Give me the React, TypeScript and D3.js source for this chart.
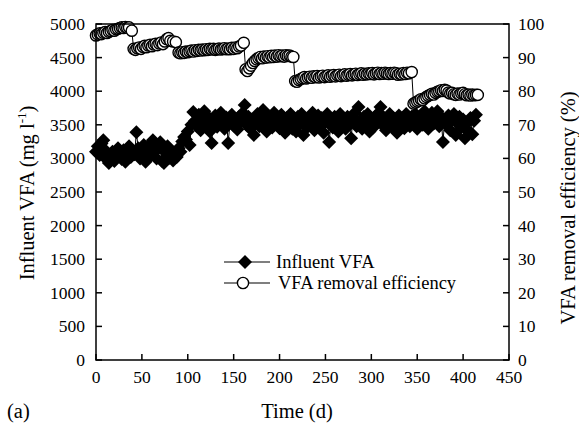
import React from "react";
import * as d3 from "d3";

// ---- data ----
// influent VFA sampled every 2 days from day 0 to day 414
const vfaDays = d3.range(0, 415, 2);
const vfaValues = [
  3100, 3180, 3050, 3220, 3270, 3120, 2980, 2930, 3040, 3100, 2960, 3010, 3150, 3060, 2990, 3120, 2950, 3080, 3180, 3020, 3100,
  3060, 3390, 3150, 3000, 3080, 3200, 2950, 3120, 3030, 3210, 3270, 3100, 3000, 3160, 3240, 2960, 2930, 3080, 3180, 3010, 3100, 2970, 3050,
  3020, 3150, 3100, 3250, 3320, 3280, 3400, 3200, 3500, 3690,
  3560, 3480, 3650, 3420, 3580, 3700, 3500, 3620, 3400, 3230, 3550, 3640, 3470, 3600, 3680, 3520, 3440, 3610, 3230, 3530, 3650, 3490,
  3580, 3430, 3620, 3540, 3680, 3795, 3500, 3620, 3440, 3580, 3350, 3540, 3660, 3480, 3600, 3720, 3520, 3400, 3630, 3560, 3460, 3680, 3540, 3600, 3450,
  3650, 3500, 3380, 3600, 3540, 3660, 3440, 3560, 3400, 3620, 3500, 3660, 3350, 3580, 3460, 3600, 3520, 3680, 3420, 3560, 3640, 3480, 3600, 3380, 3540,
  3660, 3245, 3520, 3460, 3620, 3540, 3400, 3660, 3500, 3580, 3440, 3620, 3520, 3300, 3600, 3680, 3480, 3765, 3560, 3440, 3620, 3520, 3660, 3400, 3580,
  3460, 3620, 3540, 3680, 3765, 3500, 3600, 3420, 3560, 3660, 3480, 3600, 3540, 3380, 3640, 3520, 3600, 3450, 3660, 3560, 3480, 3620, 3540, 3660, 3440,
  3580, 3640, 3500, 3700, 3560, 3440, 3620, 3680, 3520, 3600, 3700, 3480, 3620, 3245, 3560, 3500, 3640, 3420, 3580, 3660, 3350, 3520, 3620, 3460, 3580,
  3300, 3520, 3400, 3600, 3360, 3560, 3650,
];

const effDays = [
  0, 2, 4, 6, 8, 10, 12, 14, 16, 18, 20, 22, 24, 26, 28, 30, 32, 34, 36, 39,
  41, 43, 45, 47, 49, 51, 53, 55, 57, 59, 61, 63, 65, 67, 69, 71, 73, 75, 77, 79, 81, 84, 87,
  90, 92, 94, 96, 98, 100, 102, 104, 106, 108, 110, 112, 114, 116, 118, 120, 122, 124, 126, 128,
  130, 132, 134, 136, 138, 140, 142, 144, 146, 148, 150, 152, 154, 156, 158, 161,
  163, 165, 167, 169, 171, 173, 175, 177, 179, 181, 183, 185, 187, 189, 191, 193, 195, 197, 199,
  201, 203, 205, 207, 209, 211, 213, 215,
  217, 219, 221, 223, 225, 227, 229, 231, 233, 235, 237, 239, 241, 243, 245, 247, 249, 251, 253,
  255, 257, 259, 261, 263, 265, 267, 269, 271, 273, 275, 277, 279, 281, 283, 285, 287, 289, 291,
  293, 295, 297, 299, 301, 303, 305, 307, 309, 311, 313, 315, 317, 319, 321, 323, 325, 327, 329,
  331, 333, 335, 337, 339, 341, 344,
  346, 348, 350, 352, 354, 356, 358, 360, 362, 364, 366, 368, 370, 372, 374, 376, 378, 380, 382,
  384, 386, 388, 390, 392, 394, 396, 398, 400, 402, 404, 406, 408, 410, 412, 414, 416,
];
const effValues = [
  96.6, 96.9, 97.2, 97.0, 97.4, 97.6, 97.3, 97.7, 97.9, 98.2, 98.0, 98.4, 98.6, 98.8, 99.0, 98.8, 99.1, 98.9, 99.0, 98.0,
  92.6, 92.3, 92.8, 93.0, 92.6, 93.2, 93.5, 93.1, 93.6, 93.8, 93.4, 93.9, 94.1, 93.7, 94.2, 94.5, 94.0, 94.8, 95.5, 95.8, 95.0, 94.8, 94.6,
  91.5, 91.3, 91.6, 91.4, 91.8, 91.6, 91.9, 92.1, 91.8, 92.2, 92.0, 92.3, 92.1, 92.4, 92.2, 92.5, 92.3, 92.6, 92.4, 92.6,
  92.3, 92.5, 92.7, 92.4, 92.6, 92.8, 92.5, 92.7, 92.5, 92.9, 92.6, 93.0, 92.8, 93.3, 93.6, 94.4,
  86.5, 86.0, 86.8, 87.6, 88.4, 89.0, 89.5, 89.9, 90.2, 89.8, 90.3, 90.0, 90.4, 90.1, 90.5, 90.2, 90.6, 90.3, 90.7,
  90.4, 90.6, 90.3, 90.7, 90.5, 90.6, 90.3, 90.2,
  83.0, 82.8, 83.3, 83.6, 83.9, 84.2, 83.8, 84.1, 84.3, 84.0, 84.4, 84.2, 84.5, 84.1, 84.4, 84.6, 84.2, 84.5, 84.7,
  84.3, 84.6, 84.8, 84.4, 84.7, 84.9, 84.5, 84.8, 85.0, 84.6, 84.9, 85.1, 84.7, 85.0, 85.2, 84.8, 85.1, 85.3, 84.9,
  85.2, 85.0, 85.3, 85.1, 85.4, 85.0, 85.3, 85.5, 85.1, 85.4, 85.2, 85.5, 85.3, 85.1, 85.4, 85.2, 85.5, 85.3, 84.9,
  85.2, 85.0, 85.4, 85.1, 85.5, 85.3, 85.7,
  76.3, 76.6, 76.9, 77.2, 77.6, 77.4, 77.9, 78.3, 78.6, 78.9, 79.2, 79.0, 79.5, 79.8, 80.0, 80.3, 80.1, 80.4, 80.2,
  79.6, 79.3, 79.5, 79.1, 78.9, 79.3, 79.0, 79.4, 79.5, 79.1, 78.8, 79.0, 78.7, 79.0, 78.8, 78.9, 78.9,
];

const xTicks = [0, 50, 100, 150, 200, 250, 300, 350, 400, 450];
const leftTicks = [0, 500, 1000, 1500, 2000, 2500, 3000, 3500, 4000, 4500, 5000];
const rightTicks = [0, 10, 20, 30, 40, 50, 60, 70, 80, 90, 100];

const W = 579;
const H = 423;
const L = 96, R = 509, T = 24, B = 360;

const FONT = "'Liberation Serif', 'Times New Roman', Times, serif";

export default function App() {
  const x = d3.scaleLinear().domain([0, 450]).range([L, R]);
  const yL = d3.scaleLinear().domain([0, 5000]).range([B, T]);
  const yR = d3.scaleLinear().domain([0, 100]).range([B, T]);

  const vfa = vfaDays.map((d, i) => [d, vfaValues[i]] as [number, number]);
  const eff = effDays.map((d, i) => [d, effValues[i]] as [number, number]);

  const vfaLine = d3.line<[number, number]>().x((d) => x(d[0])).y((d) => yL(d[1]))(vfa) || "";
  const effLine = d3.line<[number, number]>().x((d) => x(d[0])).y((d) => yR(d[1]))(eff) || "";

  const dr = 7;
  const diamond = `M0,${-dr}L${dr},0L0,${dr}L${-dr},0Z`;
  const cr = 5.6;
  const tickFont = 17.5;

  return (
    <svg
      width={W}
      height={H}
      style={{ position: "absolute", left: 0, top: 0, background: "#fff" }}
    >
      <rect x={0} y={0} width={W} height={H} fill="#fff" />
      {/* series */}
      <path d={vfaLine} fill="none" stroke="#000" strokeWidth={1} />
      {vfa.map((d, i) => (
        <path key={"v" + i} d={diamond} transform={`translate(${x(d[0])},${yL(d[1])})`} fill="#000" />
      ))}
      <path d={effLine} fill="none" stroke="#000" strokeWidth={1} />
      {eff.map((d, i) => (
        <circle key={"e" + i} cx={x(d[0])} cy={yR(d[1])} r={cr} fill="#fff" stroke="#000" strokeWidth={1.4} />
      ))}

      {/* frame */}
      <rect x={L} y={T} width={R - L} height={B - T} fill="none" stroke="#000" strokeWidth={1.5} />

      {/* bottom ticks */}
      {xTicks.map((t) => (
        <g key={"x" + t}>
          <line x1={x(t)} x2={x(t)} y1={B} y2={B - 6} stroke="#000" strokeWidth={1.5} />
          <text x={x(t)} y={383} textAnchor="middle" fontSize={tickFont} fontFamily={FONT}>
            {t}
          </text>
        </g>
      ))}
      {/* left ticks */}
      {leftTicks.map((t) => (
        <g key={"l" + t}>
          <line x1={L} x2={L + 6} y1={yL(t)} y2={yL(t)} stroke="#000" strokeWidth={1.5} />
          <text x={L - 11} y={yL(t) + 6} textAnchor="end" fontSize={tickFont} fontFamily={FONT}>
            {t}
          </text>
        </g>
      ))}
      {/* right ticks */}
      {rightTicks.map((t) => (
        <g key={"r" + t}>
          <line x1={R} x2={R - 6} y1={yR(t)} y2={yR(t)} stroke="#000" strokeWidth={1.5} />
          <text x={R + 9} y={yR(t) + 6} textAnchor="start" fontSize={tickFont} fontFamily={FONT}>
            {t}
          </text>
        </g>
      ))}

      {/* axis titles */}
      <text transform={`translate(34,193) rotate(-90)`} textAnchor="middle" fontSize={20.5} fontFamily={FONT}>
        Influent VFA  (mg l<tspan dy={-8} fontSize={13}>-1</tspan>
        <tspan dy={8}>)</tspan>
      </text>
      <text transform={`translate(575,208) rotate(-90)`} textAnchor="middle" fontSize={20.5} fontFamily={FONT}>
        VFA removal efficiency (%)
      </text>
      <text x={297} y={418} textAnchor="middle" fontSize={20.5} fontFamily={FONT}>
        Time (d)
      </text>
      <text x={7} y={418} fontSize={20.5} fontFamily={FONT}>
        (a)
      </text>

      {/* legend */}
      <line x1={224} x2={270} y1={262} y2={262} stroke="#000" strokeWidth={1.2} />
      <path d={diamond} transform="translate(245,262)" fill="#000" />
      <text x={276} y={268} fontSize={18.5} fontFamily={FONT}>
        Influent VFA
      </text>
      <line x1={224} x2={270} y1={283} y2={283} stroke="#000" strokeWidth={1.2} />
      <circle cx={243} cy={283} r={cr} fill="#fff" stroke="#000" strokeWidth={1.4} />
      <text x={278} y={289} fontSize={18.5} fontFamily={FONT}>
        VFA removal efficiency
      </text>
    </svg>
  );
}
